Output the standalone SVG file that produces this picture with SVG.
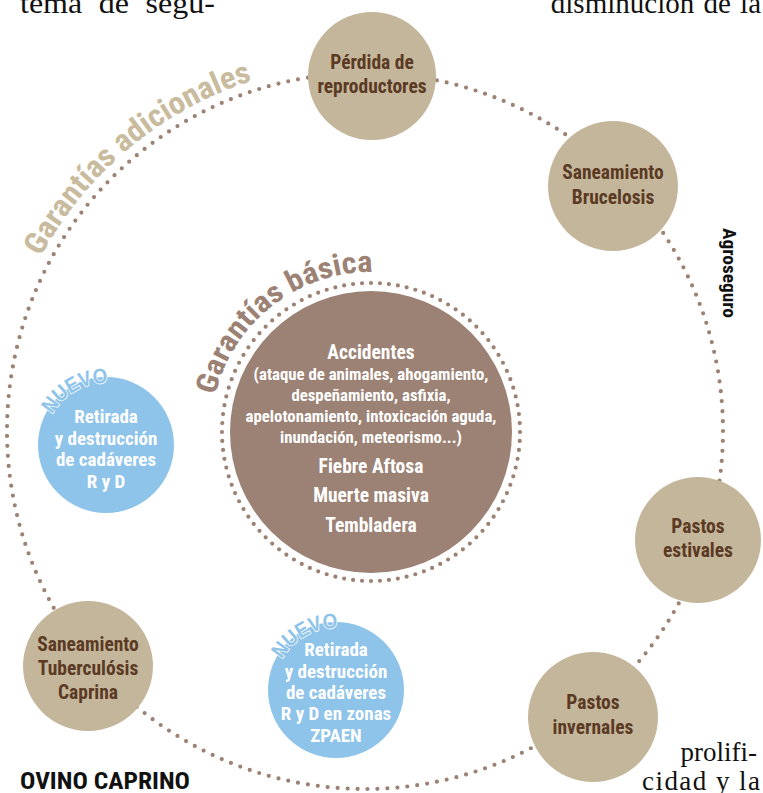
<svg xmlns="http://www.w3.org/2000/svg" width="763" height="793" viewBox="0 0 763 793">
<style>
.ring{fill:none;stroke:#9c8274;stroke-width:4.2;stroke-linecap:round;stroke-dasharray:0 1}
.tan{fill:#c4b69b}
.blue{fill:#8ec3ea}
.core{fill:#9c8274}
.t{font-family:"Liberation Sans Narrow","Roboto Condensed","Liberation Sans",sans-serif;font-weight:bold;text-anchor:middle}
.tn{fill:#5b3a24;font-size:19.5px}
.tb{fill:#ffffff;font-size:19px}
.tw{fill:#ffffff;font-size:19.5px}
.tc{fill:#ffffff;font-size:16.8px}
.nuevo{font-family:"Liberation Sans",Arial,sans-serif;font-weight:bold;font-size:21px;fill:#8ec3ea;stroke:#ffffff;stroke-width:1.6;paint-order:stroke}
.serif{font-family:"Liberation Serif","Times New Roman",serif;fill:#111}
</style>
<defs>
<path id="arcN1" d="M 44 445 A 62 62 0 0 1 137 391.3"/>
<path id="arcN2" d="M 274 690 A 62 62 0 0 1 367 636.3"/>
<path id="arcAd" d="M 19.2 305.1 A 368 368 0 0 1 365 63"/>
<path id="arcBa" d="M 211 432 A 160 160 0 0 1 451 293.4"/>
</defs>

<g id="page-text">
<text class="serif" x="20" y="13" font-size="30" word-spacing="8" textLength="195" lengthAdjust="spacingAndGlyphs">tema de segu-</text>
<text class="serif" x="761" y="13" font-size="29" text-anchor="end" word-spacing="2">disminución de la</text>
<text class="serif" x="757" y="761" font-size="27" text-anchor="end">prolifi-</text>
<text class="serif" x="760" y="790" font-size="27" text-anchor="end" textLength="118" lengthAdjust="spacing">cidad y la</text>
<text x="20" y="789" font-family="Liberation Sans Narrow,Roboto Condensed,Liberation Sans,sans-serif" font-weight="bold" font-size="23" fill="#111" textLength="170" lengthAdjust="spacingAndGlyphs">OVINO CAPRINO</text>
<text transform="translate(723 228) rotate(90)" font-family="Liberation Sans Narrow,Roboto Condensed,Liberation Sans,sans-serif" font-weight="bold" font-size="18" fill="#111" textLength="90" lengthAdjust="spacingAndGlyphs">Agroseguro</text>
</g>

<g id="connectors">
<circle class="ring" cx="365" cy="431" r="358" pathLength="225"/>
<circle class="ring" cx="371" cy="432" r="149" pathLength="104"/>
</g>

<g id="labels-curved">
<text font-family="Liberation Sans Narrow,Roboto Condensed,Liberation Sans,sans-serif" font-weight="bold" font-size="31" fill="#c9bb9e"><textPath href="#arcAd" startOffset="53" textLength="282" lengthAdjust="spacingAndGlyphs">Garantías adicionales</textPath></text>
<text font-family="Liberation Sans Narrow,Roboto Condensed,Liberation Sans,sans-serif" font-weight="bold" font-size="30" fill="#9c8274"><textPath href="#arcBa" startOffset="37" textLength="216" lengthAdjust="spacingAndGlyphs">Garantías básica</textPath></text>
</g>

<g id="core">
<circle class="core" cx="371" cy="432" r="141"/>
<text class="t tw" x="371" y="359" font-size="20.5">Accidentes</text>
<text class="t tc" x="371" y="380">(ataque de animales, ahogamiento,</text>
<text class="t tc" x="371" y="401">despeñamiento, asfixia,</text>
<text class="t tc" x="371" y="422">apelotonamiento, intoxicación aguda,</text>
<text class="t tc" x="371" y="443">inundación, meteorismo...)</text>
<text class="t tw" x="371" y="473">Fiebre Aftosa</text>
<text class="t tw" x="371" y="502">Muerte masiva</text>
<text class="t tw" x="371" y="532">Tembladera</text>
</g>

<g id="perdida">
<circle class="tan" cx="372" cy="76" r="64"/>
<text class="t tn" x="372" y="69">Pérdida de</text>
<text class="t tn" x="372" y="93">reproductores</text>
</g>

<g id="brucelosis">
<circle class="tan" cx="613" cy="186" r="65"/>
<text class="t tn" x="613" y="179">Saneamiento</text>
<text class="t tn" x="613" y="204">Brucelosis</text>
</g>

<g id="estivales">
<circle class="tan" cx="698" cy="540" r="63"/>
<text class="t tn" x="698" y="533">Pastos</text>
<text class="t tn" x="698" y="557">estivales</text>
</g>

<g id="invernales">
<circle class="tan" cx="593" cy="717" r="65"/>
<text class="t tn" x="593" y="709">Pastos</text>
<text class="t tn" x="593" y="734">invernales</text>
</g>

<g id="tuberculosis">
<circle class="tan" cx="88" cy="666" r="65"/>
<text class="t tn" x="88" y="651">Saneamiento</text>
<text class="t tn" x="88" y="675">Tuberculósis</text>
<text class="t tn" x="88" y="699">Caprina</text>
</g>

<g id="ryd">
<circle class="blue" cx="106" cy="445" r="68"/>
<text class="nuevo"><textPath href="#arcN1" startOffset="32" textLength="67" lengthAdjust="spacingAndGlyphs">NUEVO</textPath></text>
<text class="t tb" x="106" y="423">Retirada</text>
<text class="t tb" x="106" y="445">y destrucción</text>
<text class="t tb" x="106" y="466">de cadáveres</text>
<text class="t tb" x="106" y="488">R y D</text>
</g>

<g id="ryd-zpaen">
<circle class="blue" cx="336" cy="690" r="68"/>
<text class="nuevo"><textPath href="#arcN2" startOffset="32" textLength="67" lengthAdjust="spacingAndGlyphs">NUEVO</textPath></text>
<text class="t tb" x="336" y="656">Retirada</text>
<text class="t tb" x="336" y="678">y destrucción</text>
<text class="t tb" x="336" y="699">de cadáveres</text>
<text class="t tb" x="336" y="720">R y D en zonas</text>
<text class="t tb" x="336" y="742">ZPAEN</text>
</g>
</svg>
